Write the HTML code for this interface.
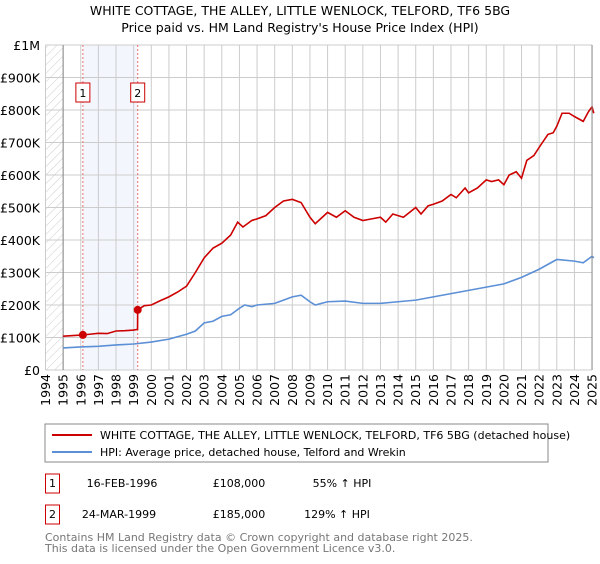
<!DOCTYPE html>
<html><head><meta charset="utf-8"><style>
body{margin:0;background:#fff;font-family:"DejaVu Sans","Liberation Sans",sans-serif;}
svg text{font-family:"DejaVu Sans","Liberation Sans",sans-serif;}
</style></head><body>
<svg width="600" height="560" xmlns="http://www.w3.org/2000/svg">
<defs><pattern id="hatch" width="6" height="6" patternUnits="userSpaceOnUse" patternTransform="rotate(45)"><line x1="0" y1="0" x2="0" y2="6" stroke="#ccc" stroke-width="1"/></pattern></defs>
<text x="300" y="15" text-anchor="middle" font-size="12.5">WHITE COTTAGE, THE ALLEY, LITTLE WENLOCK, TELFORD, TF6 5BG</text>
<text x="300" y="32" text-anchor="middle" font-size="12.5">Price paid vs. HM Land Registry's House Price Index (HPI)</text>
<g id="plot"></g>
<rect x="45" y="424" width="503" height="38" fill="#fff" stroke="#888"/>
<line x1="52" y1="435" x2="92" y2="435" stroke="#cc0000" stroke-width="2"/>
<text x="100" y="439" font-size="11">WHITE COTTAGE, THE ALLEY, LITTLE WENLOCK, TELFORD, TF6 5BG (detached house)</text>
<line x1="52" y1="452" x2="92" y2="452" stroke="#5b8fd6" stroke-width="2"/>
<text x="100" y="456" font-size="11">HPI: Average price, detached house, Telford and Wrekin</text>
<g font-size="11">
<rect x="45.5" y="474" width="14" height="19" fill="#fff" stroke="#cc0000"/><text x="52.5" y="487" text-anchor="middle">1</text>
<text x="122" y="487" text-anchor="middle">16-FEB-1996</text><text x="239" y="487" text-anchor="middle">£108,000</text><text x="342" y="487" text-anchor="middle">55% ↑ HPI</text></g>
<g font-size="11">
<rect x="45.5" y="505" width="14" height="19" fill="#fff" stroke="#cc0000"/><text x="52.5" y="518" text-anchor="middle">2</text>
<text x="119" y="518" text-anchor="middle">24-MAR-1999</text><text x="239" y="518" text-anchor="middle">£185,000</text><text x="337" y="518" text-anchor="middle">129% ↑ HPI</text></g>
<text x="45" y="541" font-size="11" fill="#777">Contains HM Land Registry data © Crown copyright and database right 2025.</text>
<text x="45" y="552" font-size="11" fill="#777">This data is licensed under the Open Government Licence v3.0.</text>
</svg>
<script>
const yTicks=[0,100,200,300,400,500,600,700,800,900,1000];
const yTickLabels=["£0","£100K","£200K","£300K","£400K","£500K","£600K","£700K","£800K","£900K","£1M"];
const years=[1994,1995,1996,1997,1998,1999,2000,2001,2002,2003,2004,2005,2006,2007,2008,2009,2010,2011,2012,2013,2014,2015,2016,2017,2018,2019,2020,2021,2022,2023,2024,2025];
const redT=[1995,1996.12,1996.5,1997,1997.5,1998,1998.5,1999,1999.22,1999.23,1999.6,2000,2000.5,2001,2001.5,2002,2002.5,2003,2003.5,2004,2004.5,2004.9,2005.2,2005.7,2006,2006.5,2007,2007.5,2008,2008.5,2009,2009.3,2009.7,2010,2010.5,2011,2011.5,2012,2012.5,2013,2013.3,2013.7,2014.3,2015,2015.3,2015.7,2016,2016.5,2017,2017.3,2017.8,2018,2018.5,2019,2019.3,2019.7,2020,2020.3,2020.7,2021,2021.3,2021.7,2022,2022.5,2022.8,2023,2023.3,2023.7,2024,2024.5,2024.8,2025,2025.1];
const redV=[104,108,110,113,112,120,121,123,125,185,198,200,213,225,240,258,300,345,375,390,415,455,440,460,465,475,500,520,525,515,470,450,470,485,470,490,470,460,465,470,455,480,470,500,480,505,510,520,540,530,560,545,560,585,580,585,570,600,610,590,645,660,685,725,730,750,790,790,780,765,795,810,790];
const blueT=[1995,1996,1997,1998,1999,2000,2001,2002,2002.5,2003,2003.5,2004,2004.5,2005,2005.3,2005.7,2006,2007,2007.5,2008,2008.5,2009,2009.3,2010,2011,2012,2013,2014,2015,2016,2017,2018,2019,2020,2021,2022,2023,2024,2024.5,2025,2025.1];
const blueV=[68,71,73,77,80,86,95,110,120,145,150,165,170,190,200,195,200,205,215,225,230,210,200,210,212,205,205,210,215,225,235,245,255,265,285,310,340,335,330,350,345];
const sales=[[1996.12,108],[1999.23,185]];
const X=t=>45.5+(t-1994)*17.63, Y=v=>370-v*0.325;
const NS="http://www.w3.org/2000/svg", g=document.getElementById('plot');
function mk(tag,attrs){const e=document.createElementNS(NS,tag);for(const k in attrs)e.setAttribute(k,attrs[k]);g.appendChild(e);return e;}
let e;
e=mk('rect',{x:X(1994),y:Y(1000),width:X(1995)-X(1994),height:Y(0)-Y(1000),fill:'url(#hatch)'});


e=mk('rect',{x:X(1996.12),y:Y(1000),width:X(1999.23)-X(1996.12),height:Y(0)-Y(1000),fill:'#eef3fc',opacity:0.7});


yTicks.forEach((v,i)=>{
 e=mk('line',{x1:X(1994),x2:X(2025),y1:Y(v),y2:Y(v),stroke:'#ccc'});
 
 
 e=mk('text',{x:40,y:Y(v)+5,'text-anchor':'end','font-size':'12.5'});e.textContent=yTickLabels[i];
 
 
});
years.forEach(yr=>{
 e=mk('line',{x1:X(yr),x2:X(yr),y1:Y(1000),y2:Y(0),stroke:'#ccc'});
 
 
 e=mk('text',{x:0,y:0,'font-size':'12.5','text-anchor':'end',transform:`translate(${X(yr)+4.5},374) rotate(-90)`});e.textContent=yr;
 
 
});
e=mk('line',{x1:X(1995),x2:X(1995),y1:Y(1000),y2:Y(0),stroke:'#888'});


sales.forEach((s,i)=>{
 e=mk('line',{x1:X(s[0]),x2:X(s[0]),y1:Y(1000),y2:Y(0),stroke:'#f07070','stroke-dasharray':'2,2'});
 
 
 e=mk('rect',{x:X(s[0])-7,y:83,width:14,height:19,fill:'#fff',stroke:'#cc0000'});
 
 
 e=mk('text',{x:X(s[0]),y:97,'text-anchor':'middle','font-size':'11'});e.textContent=String(i+1);
 
 
});
e=mk('polyline',{points:blueT.map((t,i)=>X(t)+','+Y(blueV[i])).join(' '),fill:'none',stroke:'#5b8fd6','stroke-width':1.6});


e=mk('polyline',{points:redT.map((t,i)=>X(t)+','+Y(redV[i])).join(' '),fill:'none',stroke:'#cc0000','stroke-width':1.6});


sales.forEach(s=>{
 e=mk('circle',{cx:X(s[0]),cy:Y(s[1]),r:4,fill:'#cc0000'});
 
 
});
e=mk('line',{x1:X(2025),x2:X(2025),y1:Y(1000),y2:Y(0),stroke:'#888'});


</script>
</body></html>
